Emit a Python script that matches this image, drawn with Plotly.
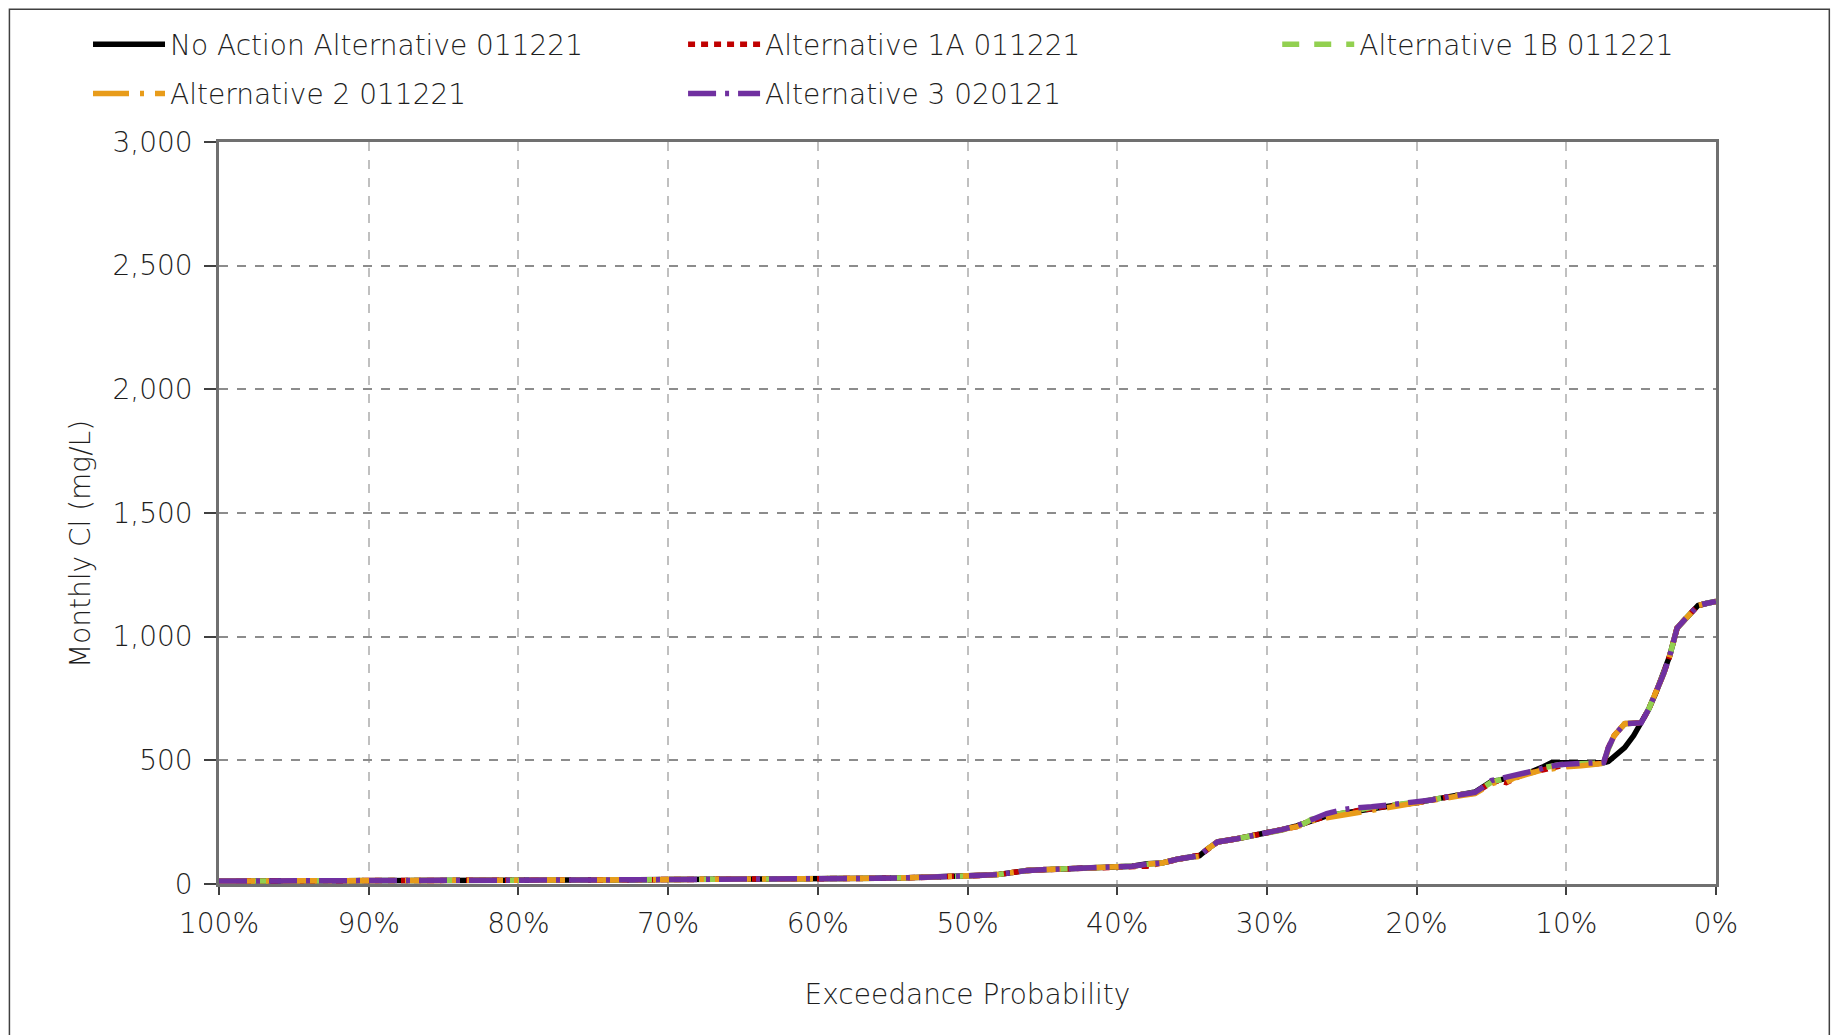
import plotly.graph_objects as go

exceed = [100, 98, 96, 94, 92, 90, 88, 86, 84, 82, 80, 78, 76, 74, 72, 70, 68, 66, 64, 62,
          60, 58, 56, 54, 52, 50, 49, 48, 47, 46, 45, 44, 42, 40, 39, 38, 37, 36, 35, 34.5,
          34, 33.3, 32, 31, 30, 29, 28, 27.5, 27, 26, 25, 24.5, 24, 23, 22, 21, 20, 19, 18, 17,
          16.1, 15.5, 15, 14.5, 14, 13.5, 13, 12.5, 12, 11.5, 11, 10.5, 10, 9, 8, 7.5, 7.2, 6.8, 6.1, 5.5,
          5, 4.5, 4, 3.5, 3.1, 2.6, 2.2, 1.5, 1.2, 0.6, 0]

naa = [12, 12, 13, 13, 13, 14, 14, 14, 15, 15, 15, 16, 16, 17, 17, 18, 18, 19, 20, 21,
       22, 22, 23, 25, 27, 32, 35, 38, 48, 55, 58, 60, 64, 68, 72, 82, 85, 100, 112, 115,
       140, 170, 183, 195, 205, 220, 235, 245, 258, 275, 285, 290, 298, 306, 313, 322, 328, 340, 352, 360,
       372, 395, 415, 420, 425, 432, 440, 450, 460, 475, 490, 490, 488, 487, 488, 490, 495, 515, 551, 600,
       650, 706, 775, 850, 921, 1035, 1062, 1110, 1126, 1135, 1142]

alt1a = [12, 12, 13, 13, 13, 14, 14, 14, 15, 15, 15, 16, 16, 17, 17, 18, 18, 19, 20, 21,
         22, 22, 23, 25, 27, 32, 35, 38, 48, 55, 58, 60, 64, 68, 70, 72, 85, 100, 112, 115,
         140, 170, 183, 195, 205, 218, 232, 245, 258, 272, 280, 286, 296, 306, 313, 322, 328, 340, 352, 362,
         368, 392, 410, 418, 410, 425, 440, 448, 455, 465, 470, 476, 478, 482, 485, 488, 550, 600, 648, 650,
         652, 706, 775, 850, 921, 1035, 1062, 1110, 1126, 1135, 1142]

alt1b = [12, 12, 13, 13, 13, 14, 14, 14, 15, 15, 15, 16, 16, 17, 17, 18, 18, 19, 20, 21,
         22, 22, 23, 25, 27, 32, 35, 38, 48, 55, 58, 60, 64, 68, 72, 80, 85, 100, 112, 115,
         140, 170, 183, 195, 205, 218, 235, 245, 262, 275, 285, 292, 300, 310, 315, 322, 330, 340, 352, 360,
         370, 392, 412, 420, 428, 430, 442, 450, 462, 470, 478, 482, 484, 486, 488, 490, 545, 600, 648, 650,
         652, 706, 775, 850, 921, 1035, 1062, 1110, 1126, 1135, 1142]

alt2 = [12, 12, 13, 13, 13, 14, 14, 14, 15, 15, 15, 16, 16, 17, 17, 18, 18, 19, 20, 21,
        22, 22, 23, 25, 27, 32, 35, 38, 48, 55, 58, 60, 64, 68, 72, 80, 85, 100, 110, 112,
        140, 170, 183, 195, 205, 218, 232, 242, 255, 268, 278, 282, 292, 302, 310, 318, 328, 338, 350, 358,
        365, 390, 405, 415, 412, 428, 438, 446, 455, 463, 465, 470, 474, 478, 482, 488, 548, 600, 648, 650,
        652, 706, 775, 850, 921, 1035, 1062, 1110, 1126, 1135, 1142]

alt3 = [12, 12, 13, 13, 13, 14, 14, 14, 15, 15, 15, 16, 16, 17, 17, 18, 18, 19, 20, 21,
        22, 22, 23, 25, 27, 32, 35, 38, 48, 55, 58, 60, 64, 68, 72, 80, 85, 100, 112, 115,
        140, 170, 183, 195, 205, 220, 235, 248, 265, 285, 300, 305, 308, 312, 318, 325, 330, 340, 352, 360,
        370, 395, 418, 425, 432, 438, 442, 450, 460, 470, 478, 482, 484, 486, 488, 492, 550, 600, 648, 650,
        652, 706, 775, 850, 921, 1035, 1062, 1110, 1126, 1135, 1142]

series_names = ["No Action Alternative 011221", "Alternative 1A 011221", "Alternative 1B 011221",
                "Alternative 2 011221", "Alternative 3 020121"]
series_values = [naa, alt1a, alt1b, alt2, alt3]
colors = ["#000000", "#c00000", "#92d050", "#e89c1a", "#7030a0"]
dashes = ["solid", "7px,6px", "17px,15px", "36px,11px,4px,11px", "28px,9px,4px,9px"]

x_ticks = [100, 90, 80, 70, 60, 50, 40, 30, 20, 10, 0]

FONT = "DejaVu Sans Light, DejaVu Sans, sans-serif"
TXT = "#1e1e1e"

# legend placement: (paper x, paper y) for each series, one single-item legend each
legend_ids = ["legend", "legend2", "legend3", "legend4", "legend5"]
legend_pos = [(-0.0875, 1.1315), (0.310, 1.1315), (0.7069, 1.1315),
              (-0.0875, 1.065), (0.310, 1.065)]

fig = go.Figure()
for name, vals, c, d, lid in zip(series_names, series_values, colors, dashes, legend_ids):
    fig.add_trace(go.Scatter(x=exceed, y=vals, mode="lines", name=name, legend=lid,
                             line=dict(color=c, width=5.5, dash=d)))

layout_legends = {}
for lid, (lx, ly) in zip(legend_ids, legend_pos):
    layout_legends[lid] = dict(x=lx, y=ly, xanchor="left", yanchor="middle",
                               orientation="h", itemwidth=72,
                               font=dict(size=28, color=TXT, family=FONT, weight=300),
                               bgcolor="rgba(0,0,0,0)")

fig.update_layout(
    width=1844, height=1035,
    margin=dict(l=211, r=136, t=134, b=159, autoexpand=False),
    paper_bgcolor="white", plot_bgcolor="white",
    font=dict(family=FONT, size=24, color=TXT, weight=300),
    showlegend=True,
    xaxis=dict(range=[100, 0], tickmode="array", tickvals=x_ticks,
               ticktext=[f"{v}%" for v in x_ticks],
               showgrid=True, gridcolor="#c0c0c0", griddash="dash", gridwidth=1.5,
               showline=True, linecolor="#707070", linewidth=2.5, mirror=True,
               ticks="outside", ticklen=8, tickcolor="#404040", tickwidth=1.5,
               ticklabelstandoff=5,
               tickfont=dict(size=28, color=TXT, family=FONT, weight=300), zeroline=False,
               title=dict(text="Exceedance Probability",
                          font=dict(size=28, color=TXT, family=FONT, weight=300), standoff=46)),
    yaxis=dict(range=[0, 3000], dtick=500, tickformat=",",
               showgrid=True, gridcolor="#8c8c8c", griddash="dash", gridwidth=1.5,
               showline=True, linecolor="#707070", linewidth=2.5, mirror=True,
               ticks="outside", ticklen=12, tickcolor="#404040", tickwidth=1.5,
               ticklabelstandoff=6,
               tickfont=dict(size=28, color=TXT, family=FONT, weight=300), zeroline=False),
    annotations=[dict(text="Monthly Cl (mg/L)", textangle=-90, xref="paper", yref="paper",
                      x=-0.0929, y=0.458, xanchor="center", yanchor="middle", showarrow=False,
                      font=dict(size=28, color=TXT, family=FONT, weight=300))],
    shapes=[dict(type="rect", xref="paper", yref="paper", x0=-0.14, x1=1.0757, y0=-0.25, y1=1.179,
                 line=dict(color="#404040", width=1.5), layer="below")],
    **layout_legends,
)

fig.write_html("out.html")
